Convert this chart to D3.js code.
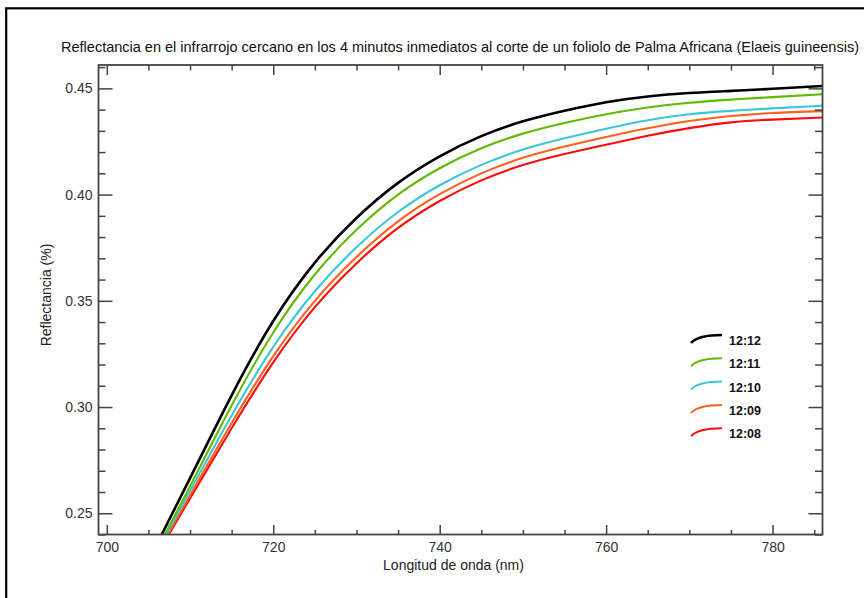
<!DOCTYPE html>
<html>
<head>
<meta charset="utf-8">
<script src="https://cdn.jsdelivr.net/npm/d3@7"></script>
<style>
  html, body { margin: 0; padding: 0; background: #fff; }
  svg { display: block; font-family: "Liberation Sans", Arial, sans-serif; }
</style>
</head>
<body>
<svg id="chart" width="864" height="598"></svg>
<script>
// ---- Data ----
const titleText = "Reflectancia en el infrarrojo cercano en los 4 minutos inmediatos al corte de un foliolo de Palma Africana (Elaeis guineensis)";
const xLabel = "Longitud de onda (nm)";
const yLabel = "Reflectancia (%)";
const seriesNames = ["12:12", "12:11", "12:10", "12:09", "12:08"];
const seriesColors = ["#000000", "#5fba00", "#3cc6da", "#ff5f1f", "#ff0a0a"];
const xTicks = [700, 720, 740, 760, 780];
const yTicks = [0.25, 0.30, 0.35, 0.40, 0.45];

const wavelengths = [705, 710, 715, 720, 725, 730, 735, 740, 745, 750, 755, 760, 765, 770, 775, 780, 786];
const s1212 = [0.2275, 0.2665, 0.3055, 0.3405, 0.3680, 0.3890, 0.4055, 0.4180, 0.4275, 0.4345, 0.4395, 0.4435, 0.4462, 0.4478, 0.4488, 0.4498, 0.4511];
const s1211 = [0.2250, 0.2627, 0.3007, 0.3351, 0.3624, 0.3834, 0.4000, 0.4124, 0.4218, 0.4287, 0.4337, 0.4378, 0.4410, 0.4432, 0.4447, 0.4459, 0.4472];
const s1210 = [0.2245, 0.2605, 0.2960, 0.3283, 0.3545, 0.3752, 0.3918, 0.4044, 0.4140, 0.4212, 0.4265, 0.4310, 0.4350, 0.4378, 0.4394, 0.4406, 0.4418];
const s1209 = [0.2240, 0.2585, 0.2925, 0.3240, 0.3500, 0.3706, 0.3874, 0.4002, 0.4100, 0.4173, 0.4226, 0.4271, 0.4312, 0.4346, 0.4370, 0.4384, 0.4393];
const s1208 = [0.2237, 0.2570, 0.2900, 0.3210, 0.3470, 0.3676, 0.3843, 0.3970, 0.4067, 0.4139, 0.4191, 0.4235, 0.4277, 0.4313, 0.4340, 0.4353, 0.4363];
const seriesData = [s1212, s1211, s1210, s1209, s1208];

// ---- Layout ----
const svg = d3.select("#chart");
const plot = { left: 98.5, right: 822.5, top: 65, bottom: 534.5 };

const x = d3.scaleLinear().domain([699, 786]).range([plot.left, plot.right]);
const y = d3.scaleLinear().domain([0.24, 0.461]).range([plot.bottom, plot.top]);

// outer frame
svg.append("rect")
  .attr("x", 6.2).attr("y", 8.3)
  .attr("width", 900).attr("height", 700)
  .attr("fill", "none").attr("stroke", "#000").attr("stroke-width", 2.2);

// title
svg.append("text")
  .attr("x", 460).attr("y", 52)
  .attr("text-anchor", "middle")
  .attr("font-size", 14.5)
  .attr("fill", "#111")
  .text(titleText);

// clip
svg.append("defs").append("clipPath").attr("id", "clip")
  .append("rect")
  .attr("x", plot.left).attr("y", plot.top)
  .attr("width", plot.right - plot.left).attr("height", plot.bottom - plot.top);

// lines
const line = d3.line().x(d => x(d[0])).y(d => y(d[1])).curve(d3.curveNatural);
const g = svg.append("g").attr("clip-path", "url(#clip)");
for (let idx = seriesData.length - 1; idx >= 0; idx--) {
  const pts = wavelengths.map((w, k) => [w, seriesData[idx][k]]);
  g.append("path")
    .datum(pts)
    .attr("d", line)
    .attr("fill", "none")
    .attr("stroke", seriesColors[idx])
    .attr("stroke-width", idx === 0 ? 2.6 : 2.1);
}

// axes
const axisColor = "#444";
const xMinor = d3.range(700, 786.01, 5).filter(v => xTicks.indexOf(v) < 0);
const yMinor = d3.range(24, 46.01, 1).map(v => +(v / 100).toFixed(2)).filter(v => !yTicks.some(t => Math.abs(t - v) < 1e-9));

function styleAxis(sel) {
  sel.select(".domain").remove();
  sel.selectAll(".tick line").attr("stroke", axisColor).attr("stroke-width", 1.5);
  sel.selectAll(".tick text").attr("fill", "#333").attr("font-size", 14)
    .attr("font-family", "'Liberation Sans', Arial, sans-serif");
}

// bottom
const gxB = svg.append("g").attr("transform", `translate(0,${plot.bottom})`)
  .call(d3.axisBottom(x).tickValues(xTicks).tickFormat(d3.format("d")).tickSizeInner(-9.5).tickSizeOuter(0).tickPadding(4));
styleAxis(gxB);
gxB.selectAll(".tick text").attr("dy", "0.95em").attr("y", 4);
svg.append("g").attr("transform", `translate(0,${plot.bottom})`)
  .call(d3.axisBottom(x).tickValues(xMinor).tickFormat("").tickSizeInner(-4.5).tickSizeOuter(0))
  .call(styleAxis);
// top
svg.append("g").attr("transform", `translate(0,${plot.top})`)
  .call(d3.axisTop(x).tickValues(xTicks).tickFormat("").tickSizeInner(-10).tickSizeOuter(0))
  .call(styleAxis);
svg.append("g").attr("transform", `translate(0,${plot.top})`)
  .call(d3.axisTop(x).tickValues(xMinor).tickFormat("").tickSizeInner(-5.5).tickSizeOuter(0))
  .call(styleAxis);
// left
const gyL = svg.append("g").attr("transform", `translate(${plot.left},0)`)
  .call(d3.axisLeft(y).tickValues(yTicks).tickFormat(d3.format(".2f")).tickSizeInner(-14).tickSizeOuter(0).tickPadding(6));
styleAxis(gyL);
gyL.selectAll(".tick text").attr("x", -6);
svg.append("g").attr("transform", `translate(${plot.left},0)`)
  .call(d3.axisLeft(y).tickValues(yMinor).tickFormat("").tickSizeInner(-7).tickSizeOuter(0))
  .call(styleAxis);
// right
svg.append("g").attr("transform", `translate(${plot.right},0)`)
  .call(d3.axisRight(y).tickValues(yTicks).tickFormat("").tickSizeInner(-14).tickSizeOuter(0))
  .call(styleAxis);
svg.append("g").attr("transform", `translate(${plot.right},0)`)
  .call(d3.axisRight(y).tickValues(yMinor).tickFormat("").tickSizeInner(-7.5).tickSizeOuter(0))
  .call(styleAxis);

// plot frame
svg.append("rect")
  .attr("x", plot.left).attr("y", plot.top)
  .attr("width", plot.right - plot.left).attr("height", plot.bottom - plot.top)
  .attr("fill", "none").attr("stroke", axisColor).attr("stroke-width", 1.8);

// axis titles
svg.append("text")
  .attr("x", (plot.left + plot.right) / 2 - 7).attr("y", 570)
  .attr("text-anchor", "middle").attr("font-size", 14).attr("fill", "#222")
  .text(xLabel);
svg.append("text")
  .attr("transform", "translate(51,295) rotate(-90)")
  .attr("text-anchor", "middle").attr("font-size", 14).attr("fill", "#222")
  .text(yLabel);

// legend
const legend = svg.append("g").attr("transform", "translate(691,335)");
seriesNames.forEach((name, i) => {
  const gy = i * 23.3;
  legend.append("path")
    .attr("d", `M0,${gy + 8} Q7,${gy} 31,${gy}`)
    .attr("fill", "none")
    .attr("stroke", seriesColors[i])
    .attr("stroke-width", i === 0 ? 2.6 : 2);
  legend.append("text")
    .attr("x", 38).attr("y", gy + 10)
    .attr("font-size", 12.5).attr("font-weight", "bold").attr("fill", "#111")
    .text(name);
});
</script>
</body>
</html>
